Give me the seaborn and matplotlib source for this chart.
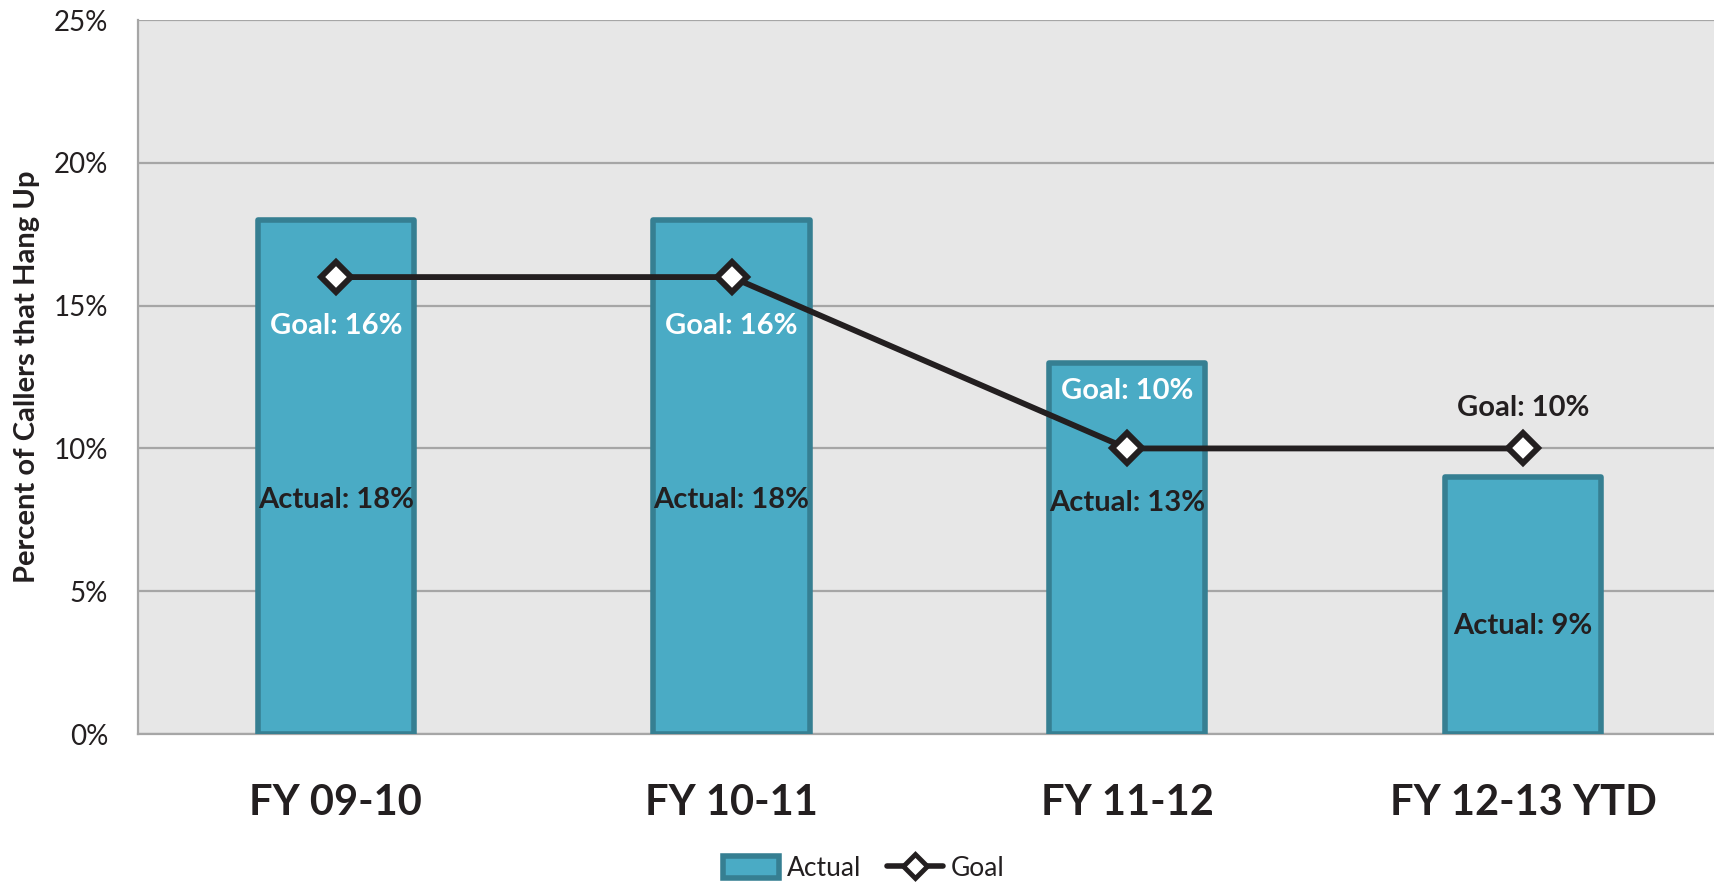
import numpy as np
import matplotlib
matplotlib.use("Agg")
import matplotlib.pyplot as plt
import seaborn as sns
from matplotlib.patches import Patch
from matplotlib.lines import Line2D

# Fiscal-year hang-up rates (percent of callers)
categories = ["FY 09-10", "FY 10-11", "FY 11-12", "FY 12-13 YTD"]
actual = [18, 18, 13, 9]
goal = [16, 16, 10, 10]

# Where each data label sits (in percent units) and its colour
goal_label_y = [14.3, 14.3, 12.0, 11.4]
goal_label_color = ["white", "white", "white", "#231F20"]
actual_label_y = [8.2, 8.2, 8.1, 3.8]

BAR_FILL = "#4AABC5"
BAR_EDGE = "#367F92"
GRID = "#A6A6A6"
INK = "#231F20"
PANEL = "#E7E7E7"

sns.set_style("white")
plt.rcParams["font.family"] = ["Lato", "DejaVu Sans"]

fig = plt.figure(figsize=(17.14, 8.83), dpi=100)
ax = fig.add_axes([0.0805, 0.1687, 1.004 - 0.0805, 0.9773 - 0.1687])
ax.set_facecolor(PANEL)

x = np.arange(len(categories))

sns.barplot(x=categories, y=actual, ax=ax, color=BAR_FILL, saturation=1,
            edgecolor=BAR_EDGE, linewidth=4, width=0.395, zorder=2)
for p in ax.patches:
    p.set_joinstyle("round")

sns.lineplot(x=x, y=goal, ax=ax, color=INK, linewidth=4.2, marker="D",
             markersize=15, markerfacecolor="white", markeredgecolor=INK,
             markeredgewidth=4.3, zorder=4, legend=False)

for i in range(len(categories)):
    ax.text(x[i], goal_label_y[i], f"Goal: {goal[i]}%", ha="center", va="center",
            fontsize=21, fontweight="bold", color=goal_label_color[i], zorder=5)
    ax.text(x[i], actual_label_y[i], f"Actual: {actual[i]}%", ha="center", va="center",
            fontsize=21, fontweight="bold", color=INK, zorder=5)

ax.set_xlim(-0.5, 3.5)
ax.set_ylim(0, 25)
ax.set_yticks(np.arange(0, 26, 5))
ax.set_yticklabels([f"{v}%" for v in range(0, 26, 5)])
ax.yaxis.grid(True, color=GRID, linewidth=1.6, zorder=0)
ax.set_axisbelow(True)

ax.set_xticks(x)
ax.set_xticklabels(categories, fontsize=30, fontweight="bold", color=INK)
ax.set_xticks(np.arange(-0.5, 3.6, 1), minor=True)
ax.tick_params(axis="x", which="major", length=0, pad=36)
ax.tick_params(axis="x", which="minor", length=11, width=1.6, color=GRID)
ax.tick_params(axis="y", length=6.5, width=1.6, color=GRID, labelsize=20,
               labelcolor=INK, pad=15)

for side in ["top", "right"]:
    ax.spines[side].set_visible(False)
for side in ["left", "bottom"]:
    ax.spines[side].set_color(GRID)
    ax.spines[side].set_linewidth(1.6)
    ax.spines[side].set_zorder(1)

ax.set_xlabel("")
ax.set_ylabel("Percent of Callers that Hang Up", fontsize=21, fontweight="bold",
              color=INK, va="center")
ax.yaxis.set_label_coords(-0.0700, 0.501)

handles = [
    Patch(facecolor=BAR_FILL, edgecolor=BAR_EDGE, linewidth=4, label="Actual"),
    Line2D([0], [0], color=INK, linewidth=4, marker="D", markersize=12,
           markerfacecolor="white", markeredgecolor=INK, markeredgewidth=3.5,
           label="Goal"),
]
leg = fig.legend(handles=handles, loc="center", bbox_to_anchor=(0.504, 0.016),
                 ncol=2, frameon=False, fontsize=19, handlelength=2.1,
                 handleheight=0.9, handletextpad=0.3, columnspacing=1.0)
for t in leg.get_texts():
    t.set_color(INK)

fig.savefig("out.png", dpi=100, facecolor="white")
